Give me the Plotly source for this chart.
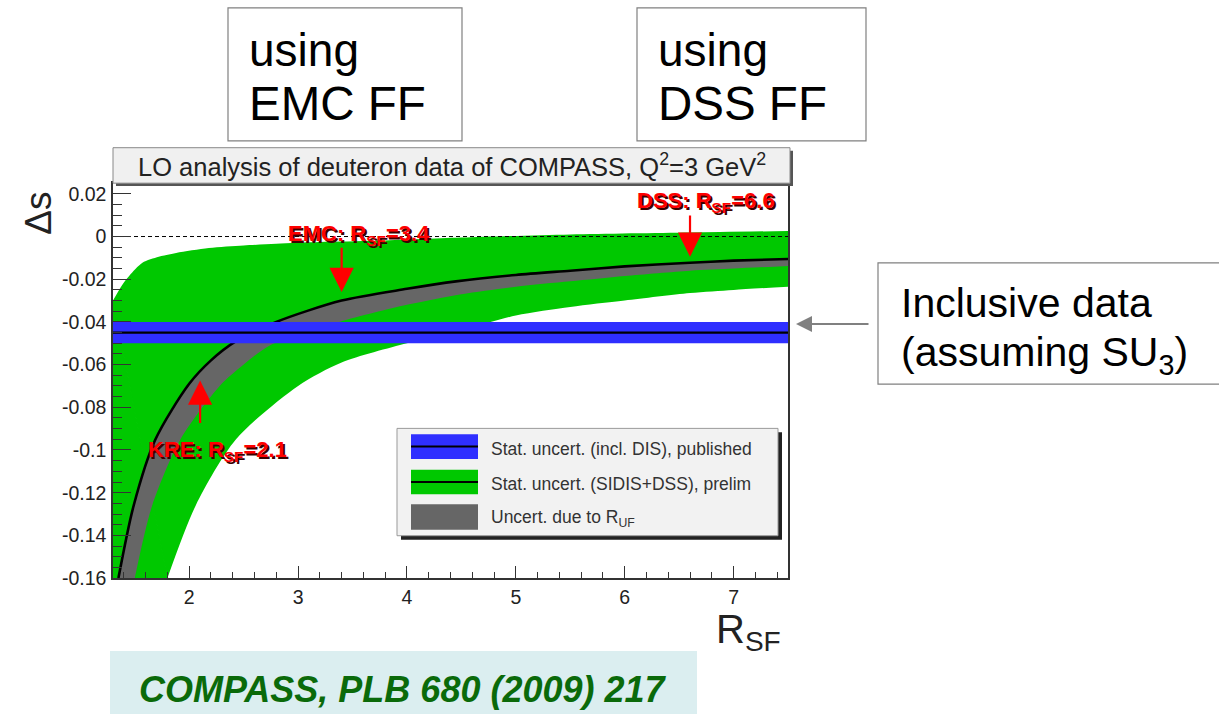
import plotly.graph_objects as go

W, H = 1219, 723

# axis ranges
X_MIN, X_MAX = 1.3, 7.5
Y_MIN, Y_MAX = -0.16, 0.025

X_TICKS = [2, 3, 4, 5, 6, 7]
X_TICK_TEXT = ["2", "3", "4", "5", "6", "7"]
Y_TICKS = [0.02, 0.0, -0.02, -0.04, -0.06, -0.08, -0.10, -0.12, -0.14, -0.16]
Y_TICK_TEXT = ["0.02", "0", "-0.02", "-0.04", "-0.06", "-0.08", "-0.1", "-0.12", "-0.14", "-0.16"]

# central curve of Delta s versus R_SF
R_CENTRAL = [1.35, 1.49, 1.69, 2.0, 2.2, 2.43, 2.8, 3.4, 4.0, 4.45, 5.0, 5.5, 6.0, 6.6, 7.0, 7.5]
DS_CENTRAL = [-0.160, -0.126, -0.095, -0.069, -0.058, -0.049, -0.040, -0.030, -0.0245,
              -0.021, -0.018, -0.016, -0.014, -0.0123, -0.0113, -0.0105]

# lower edge of the R_UF uncertainty band (upper edge is the central curve)
R_RUF_LOW = [1.50, 1.66, 1.92, 2.28, 2.5, 2.74, 3.38, 4.0, 4.5, 5.0, 5.5, 6.0, 6.6, 7.0, 7.5]
DS_RUF_LOW = [-0.160, -0.126, -0.095, -0.070, -0.060, -0.051, -0.040, -0.032, -0.027,
              -0.0235, -0.021, -0.0185, -0.016, -0.015, -0.0138]

# statistical band (SIDIS+DSS)
R_STAT_UP = [1.30, 1.38, 1.45, 1.57, 1.72, 1.88, 2.18, 2.5, 2.8, 3.2, 3.72, 4.5, 5.5, 6.6, 7.5]
DS_STAT_UP = [-0.030, -0.023, -0.0184, -0.0123, -0.0095, -0.0077, -0.0054, -0.0042, -0.0034,
              -0.0026, -0.0020, -0.0005, 0.0010, 0.0019, 0.0026]
R_STAT_LOW = [1.80, 2.06, 2.43, 3.0, 3.4, 4.0, 4.5, 5.0, 5.5, 6.0, 6.6, 7.0, 7.5]
DS_STAT_LOW = [-0.160, -0.126, -0.095, -0.070, -0.059, -0.050, -0.044, -0.037, -0.033,
               -0.030, -0.0265, -0.025, -0.0235]

# inclusive result (published)
DS_INCL = -0.045
DS_INCL_ERR = 0.005

# fragmentation-function sets marked with arrows
FF_SETS = ["EMC", "DSS", "KRE"]
FF_RSF = [3.4, 6.6, 2.1]
FF_TIP = [-0.026, -0.0095, -0.0675]
FF_TAIL = [-0.0046, 0.0105, -0.088]
FF_LABEL_Y = [0.0005, 0.0160, -0.1003]
FF_LABEL_DX = [0.16, 0.15, 0.16]

BLUE = "#2f2fff"
GREEN = "#00c800"
GREY = "#666666"
RED = "#ff0000"
FONT = "Liberation Sans, Arial, sans-serif"

# plot frame in pixels
L, R, T, B = 113, 788, 186, 587


def fx(px):
    return px / W


def fy(py):
    return 1 - py / H


def edge(x, y, fill=None, color=None):
    return go.Scatter(
        x=x, y=y, mode="lines", fill=fill, fillcolor=color,
        line=dict(width=0, color=color or "rgba(0,0,0,0)", shape="spline", smoothing=0.8),
        hoverinfo="skip", showlegend=False)


fig = go.Figure()

# green statistical band between its lower and upper edges
fig.add_trace(edge(R_STAT_LOW, DS_STAT_LOW))
fig.add_trace(edge(R_STAT_UP, DS_STAT_UP, fill="tonexty", color=GREEN))
# the band runs past the lower-left corner of the frame
fig.add_trace(go.Scatter(
    x=[R_STAT_UP[0], X_MIN, R_STAT_LOW[0], R_STAT_UP[0]],
    y=[DS_STAT_UP[0], Y_MIN, DS_STAT_LOW[0], DS_STAT_UP[0]],
    fill="toself", fillcolor=GREEN, mode="lines", line=dict(width=1.5, color=GREEN),
    hoverinfo="skip", showlegend=False))

# grey R_UF band between its lower edge and the central curve
fig.add_trace(edge(R_RUF_LOW, DS_RUF_LOW))
fig.add_trace(edge(R_CENTRAL, DS_CENTRAL, fill="tonexty", color=GREY))

# central curve
fig.add_trace(go.Scatter(
    x=R_CENTRAL, y=DS_CENTRAL, mode="lines",
    line=dict(width=2.6, color="black", shape="spline", smoothing=0.8),
    hoverinfo="skip", showlegend=False))

# blue inclusive band with central value
fig.add_trace(go.Scatter(
    x=[X_MIN, X_MAX, X_MAX, X_MIN],
    y=[DS_INCL + DS_INCL_ERR, DS_INCL + DS_INCL_ERR, DS_INCL - DS_INCL_ERR, DS_INCL - DS_INCL_ERR],
    fill="toself", fillcolor=BLUE, mode="lines", line=dict(width=0, color=BLUE),
    hoverinfo="skip", showlegend=False))
fig.add_trace(go.Scatter(
    x=[X_MIN, X_MAX], y=[DS_INCL, DS_INCL], mode="lines",
    line=dict(width=2.2, color="black"), hoverinfo="skip", showlegend=False))

# zero line
fig.add_trace(go.Scatter(
    x=[X_MIN, X_MAX], y=[0, 0], mode="lines",
    line=dict(width=1, color="black", dash="4px,3px"), hoverinfo="skip", showlegend=False))

shapes = []
ann = []

# title box with shadow
shapes.append(dict(type="rect", xref="paper", yref="paper",
                   x0=fx(L + 3), x1=fx(793), y0=fy(189), y1=fy(153),
                   fillcolor="#555555", line=dict(width=0), layer="above"))
shapes.append(dict(type="rect", xref="paper", yref="paper",
                   x0=fx(L), x1=fx(790), y0=fy(186), y1=fy(150),
                   fillcolor="#f0f0f0", line=dict(width=1, color="#888888"), layer="above"))
ann.append(dict(xref="paper", yref="paper", x=fx(452), y=fy(168), showarrow=False,
                text="LO analysis of deuteron data of COMPASS, Q<sup>2</sup>=3 GeV<sup>2</sup>",
                font=dict(family=FONT, size=25.5, color="#222222"), xanchor="center", yanchor="middle"))

# legend box
shapes.append(dict(type="rect", xref="paper", yref="paper",
                   x0=fx(401), x1=fx(782), y0=fy(548), y1=fy(439),
                   fillcolor="#222222", line=dict(width=0), layer="above"))
shapes.append(dict(type="rect", xref="paper", yref="paper",
                   x0=fx(397), x1=fx(778), y0=fy(544), y1=fy(435),
                   fillcolor="#f2f2f2", line=dict(width=1, color="#999999"), layer="above"))
legend_items = [
    (BLUE, True, "Stat. uncert. (incl. DIS), published", 441, 466),
    (GREEN, True, "Stat. uncert. (SIDIS+DSS), prelim", 477, 502),
    (GREY, False, "Uncert. due to R<sub>UF</sub>", 512, 538),
]
for col, has_line, label, y0, y1 in legend_items:
    shapes.append(dict(type="rect", xref="paper", yref="paper",
                       x0=fx(411), x1=fx(478), y0=fy(y1), y1=fy(y0),
                       fillcolor=col, line=dict(width=0), layer="above"))
    if has_line:
        yc = (y0 + y1) / 2
        shapes.append(dict(type="line", xref="paper", yref="paper",
                           x0=fx(411), x1=fx(478), y0=fy(yc), y1=fy(yc),
                           line=dict(width=2, color="black"), layer="above"))
    ann.append(dict(xref="paper", yref="paper", x=fx(489), y=fy((y0 + y1) / 2 + 2),
                    text=label, showarrow=False, xanchor="left", yanchor="middle",
                    font=dict(family=FONT, size=17.5, color="#333333")))

# arrows marking the FF sets
for name, r, tip, tail, ly, dx in zip(FF_SETS, FF_RSF, FF_TIP, FF_TAIL, FF_LABEL_Y, FF_LABEL_DX):
    ann.append(dict(x=r, y=tip, ax=r, ay=tail, xref="x", yref="y", axref="x", ayref="y",
                    showarrow=True, arrowhead=2, arrowsize=2.2, arrowwidth=2.2,
                    arrowcolor=RED, text="", standoff=0))
    label = f"{name}: R<sub>SF</sub>={r}"
    for col, sx, sy in (("#3a0000", 2, -2), (RED, 0, 0)):
        ann.append(dict(x=r + dx, y=ly, xref="x", yref="y", text=f"<b>{label}</b>",
                        showarrow=False, xanchor="center", yanchor="middle",
                        xshift=sx, yshift=sy,
                        font=dict(family=FONT, size=22, color=col)))

# axis titles
ann.append(dict(xref="paper", yref="paper", x=fx(39), y=fy(217), text="\u0394s",
                showarrow=False, textangle=-90, xanchor="center", yanchor="middle",
                font=dict(family=FONT, size=37, color="#222222")))
ann.append(dict(xref="paper", yref="paper", x=fx(748), y=fy(642), text="R<sub>SF</sub>",
                showarrow=False, xanchor="center", yanchor="middle",
                font=dict(family=FONT, size=40, color="#222222")))

# FF boxes above the plot
for x0, x1, ff in ((228, 462, "EMC FF"), (637, 866, "DSS FF")):
    shapes.append(dict(type="rect", xref="paper", yref="paper",
                       x0=fx(x0), x1=fx(x1), y0=fy(143), y1=fy(8),
                       fillcolor="white", line=dict(width=1.2, color="#808080"), layer="above"))
    ann.append(dict(xref="paper", yref="paper", x=fx(x0 + 19), y=fy(51), text="using",
                    showarrow=False, xanchor="left", yanchor="middle",
                    font=dict(family=FONT, size=46, color="black")))
    ann.append(dict(xref="paper", yref="paper", x=fx(x0 + 19), y=fy(105), text=ff,
                    showarrow=False, xanchor="left", yanchor="middle",
                    font=dict(family=FONT, size=47.5, color="black")))

# inclusive-data box with pointer
shapes.append(dict(type="rect", xref="paper", yref="paper",
                   x0=fx(878), x1=fx(1226), y0=fy(390), y1=fy(267),
                   fillcolor="white", line=dict(width=1.2, color="#808080"), layer="above"))
ann.append(dict(xref="paper", yref="paper", x=fx(899), y=fy(308), text="Inclusive data",
                showarrow=False, xanchor="left", yanchor="middle",
                font=dict(family=FONT, size=41, color="black")))
ann.append(dict(xref="paper", yref="paper", x=fx(899), y=fy(360),
                text="(assuming SU<sub>3</sub>)",
                showarrow=False, xanchor="left", yanchor="middle",
                font=dict(family=FONT, size=41, color="black")))
ann.append(dict(xref="paper", yref="paper", x=fx(796), y=fy(329), ax=74, ay=0,
                showarrow=True, arrowhead=2, arrowsize=1.6, arrowwidth=2,
                arrowcolor="#808080", text="", standoff=0))

# reference box
shapes.append(dict(type="rect", xref="paper", yref="paper",
                   x0=fx(110), x1=fx(697), y0=fy(725), y1=fy(661),
                   fillcolor="#dbeef0", line=dict(width=0), layer="above"))
ann.append(dict(xref="paper", yref="paper", x=fx(403), y=fy(700),
                text="<b><i>COMPASS, PLB 680 (2009) 217</i></b>",
                showarrow=False, xanchor="center", yanchor="middle",
                font=dict(family=FONT, size=36, color="#0a6a0a")))

axis_common = dict(showgrid=False, zeroline=False, showline=True, mirror=True,
                   linecolor="#333333", linewidth=1.5, ticks="inside",
                   tickcolor="#333333", tickwidth=1.2, ticklabelstandoff=1,
                   tickfont=dict(family=FONT, size=19.5, color="#222222"))

fig.update_layout(
    width=W, height=H,
    margin=dict(l=0, r=0, t=0, b=0),
    paper_bgcolor="white", plot_bgcolor="white",
    showlegend=False,
    xaxis=dict(domain=[L / W, R / W], range=[X_MIN, X_MAX],
               tickmode="array", tickvals=X_TICKS, ticktext=X_TICK_TEXT, ticklen=12,
               minor=dict(tickmode="linear", tick0=0, dtick=0.2, ticklen=6,
                          ticks="inside", tickcolor="#333333"),
               **axis_common),
    yaxis=dict(domain=[1 - B / H, 1 - T / H], range=[Y_MIN, Y_MAX],
               tickmode="array", tickvals=Y_TICKS, ticktext=Y_TICK_TEXT, ticklen=18,
               minor=dict(tickmode="linear", tick0=0, dtick=0.005, ticklen=9,
                          ticks="inside", tickcolor="#333333"),
               **axis_common),
    shapes=shapes,
    annotations=ann,
)

fig.write_html("out.html")
